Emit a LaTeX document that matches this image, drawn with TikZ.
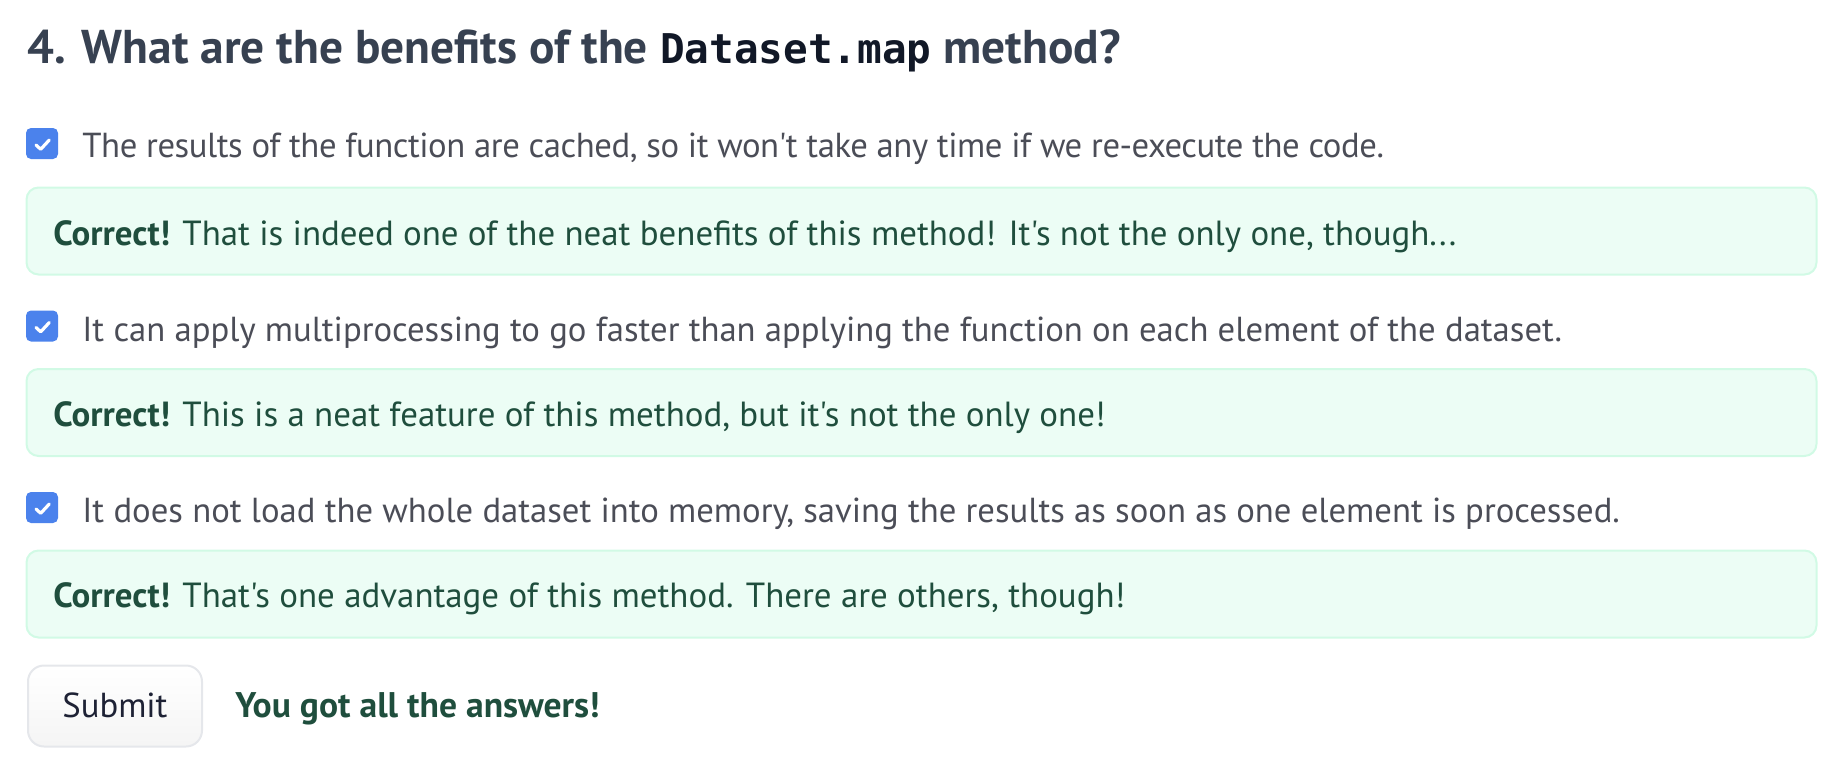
\documentclass[tikz,border=0pt]{standalone}
\usepackage{fontspec}
\setmainfont{PT Sans}[Ligatures=TeXOff]
\newfontfamily\codefont{DejaVu Sans Mono}
\definecolor{headc}{HTML}{374151}
\definecolor{codec}{HTML}{111827}
\definecolor{optc}{HTML}{4B4D57}
\definecolor{tickc}{HTML}{4B82EC}
\definecolor{fbfill}{HTML}{ECFDF5}
\definecolor{fbline}{HTML}{D1FAE5}
\definecolor{goodc}{HTML}{1F4E3D}
\definecolor{btnline}{HTML}{E5E7EB}
\definecolor{btntext}{HTML}{1E2235}
\begin{document}
\begin{tikzpicture}[x=0.5pt,y=-0.5pt]
\tikzstyle{head}=[anchor=base west,inner sep=0pt,text=headc,font=\fontsize{23.7}{28}\selectfont\bfseries];
\tikzstyle{opt}=[anchor=base west,inner sep=0pt,text=optc,font=\fontsize{17.35}{21}\selectfont];
\tikzstyle{good}=[anchor=base west,inner sep=0pt,text=goodc,font=\fontsize{17.45}{21}\selectfont];
\tikzstyle{cbox}=[rectangle,rounded corners=2.5pt,fill=tickc,minimum width=16pt,minimum height=15.5pt,inner sep=0pt];
\tikzstyle{tick}=[draw=white,line width=1.6pt,line cap=round,line join=round];
\tikzstyle{fb}=[rectangle,rounded corners=6pt,fill=fbfill,draw=fbline,line width=1pt,minimum width=895pt,minimum height=43.5pt,inner sep=0pt];
\tikzstyle{btn}=[rectangle,rounded corners=8pt,top color=white,bottom color=gray!8,draw=btnline,line width=1pt,minimum width=87pt,minimum height=40.5pt,inner sep=0pt];
\useasboundingbox (0,0) rectangle (1832,772);
\node [head] (q) at (27,63) {4. What are the benefits of the {\codefont\fontsize{20.5}{24}\selectfont\color{codec}Dataset.map} method?};

\node [cbox] (c1) at (42,143.5) {};
\draw [tick] (c1.center) ++(-6,1.5) -- ++(4.7,4.3) -- ++(8.6,-9.3);
\node [opt,font=\fontsize{17.35}{21}\selectfont\addfontfeature{LetterSpace=-1.3}] (o1) at (82,157) {The results of the function are cached, so it won't take any time if we re-execute the code.};
\node [fb] (f1) at (921.5,231) {};
\node [good] (g1) at (53,245) {\textbf{Correct!} That is indeed one of the neat benefits of this method! It's not the only one, though...};

\node [cbox] (c2) at (42,326) {};
\draw [tick] (c2.center) ++(-6,1.5) -- ++(4.7,4.3) -- ++(8.6,-9.3);
\node [opt] (o2) at (82,341) {It can apply multiprocessing to go faster than applying the function on each element of the dataset.};
\node [fb] (f2) at (921.5,412.5) {};
\node [good] (g2) at (53,426) {\textbf{Correct!} This is a neat feature of this method, but it's not the only one!};

\node [cbox] (c3) at (42,507.5) {};
\draw [tick] (c3.center) ++(-6,1.5) -- ++(4.7,4.3) -- ++(8.6,-9.3);
\node [opt] (o3) at (82,522) {It does not load the whole dataset into memory, saving the results as soon as one element is processed.};
\node [fb] (f3) at (921.5,594) {};
\node [good] (g3) at (53,607) {\textbf{Correct!} That's one advantage of this method. There are others, though!};

\node [btn] (b) at (115,706) {};
\node [opt,text=btntext] (s) at (62,717) {Submit};
\node [good,font=\fontsize{17.8}{22}\selectfont\bfseries] (a) at (235,717) {You got all the answers!};
\end{tikzpicture}
\end{document}
